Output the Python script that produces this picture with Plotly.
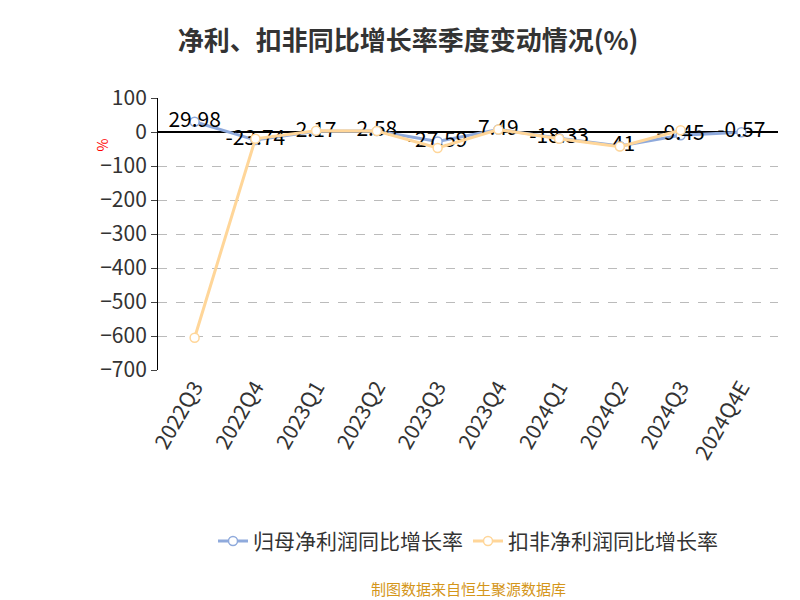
import plotly.graph_objects as go

quarters = ['2022Q3', '2022Q4', '2023Q1', '2023Q2', '2023Q3', '2023Q4',
            '2024Q1', '2024Q2', '2024Q3', '2024Q4E']
net_profit = [29.98, -23.74, 2.17, 2.58, -27.59, 7.49, -18.33, -41, -9.45, -0.57]
net_profit_labels = ['29.98', '-23.74', '2.17', '2.58', '-27.59', '7.49',
                     '-18.33', '-41', '-9.45', '-0.57']
deducted = [-605, -20, 4, 3, -47, 7, -20, -43, 5, None]

fig = go.Figure()

fig.add_trace(go.Scatter(
    x=quarters, y=net_profit, name='归母净利润同比增长率',
    mode='lines+markers+text', text=net_profit_labels, textposition='middle center',
    textfont=dict(size=21, color='black'),
    line=dict(color='#8faadc', width=3),
    marker=dict(size=9, color='white', line=dict(color='#8faadc', width=1.5)),
))
fig.add_trace(go.Scatter(
    x=quarters, y=deducted, name='扣非净利润同比增长率',
    mode='lines+markers', connectgaps=False,
    line=dict(color='#ffd699', width=3),
    marker=dict(size=9, color='white', line=dict(color='#ffd699', width=1.5)),
))

fig.update_layout(
    width=800, height=600,
    plot_bgcolor='white', paper_bgcolor='white',
    font=dict(family='Noto Sans CJK SC', color='#333'),
    title=dict(text='<b>净利、扣非同比增长率季度变动情况(%)</b>', x=0.5, y=0.96,
               xanchor='center', font=dict(size=26, color='#333')),
    margin=dict(l=150, r=30, t=90, b=238),
    showlegend=True,
    legend=dict(orientation='h', x=0.5, xanchor='center', y=-0.63, yanchor='middle',
                font=dict(size=21, color='#333')),
    annotations=[
        dict(text='制图数据来自恒生聚源数据库', x=0.5, xref='paper', y=-0.85, yref='paper',
             showarrow=False, font=dict(size=15, color='#d4961a')),
        dict(text='%', x=-0.11, xref='paper', y=0.86, yref='paper', textangle=-90,
             showarrow=False, font=dict(size=14, color='red')),
    ],
)
fig.update_yaxes(range=[-700, 100], dtick=100, showgrid=True, gridcolor='#bbb',
                 griddash='dash', zeroline=True, zerolinecolor='black', zerolinewidth=1.5,
                 showline=True, linecolor='black', ticks='outside', ticklen=6,
                 tickfont=dict(size=21, color='#333'))
fig.update_xaxes(showgrid=False, tickangle=-60, tickfont=dict(size=21, color='#333'),
                 ticks='', showline=False)

fig.write_html('out.html')
